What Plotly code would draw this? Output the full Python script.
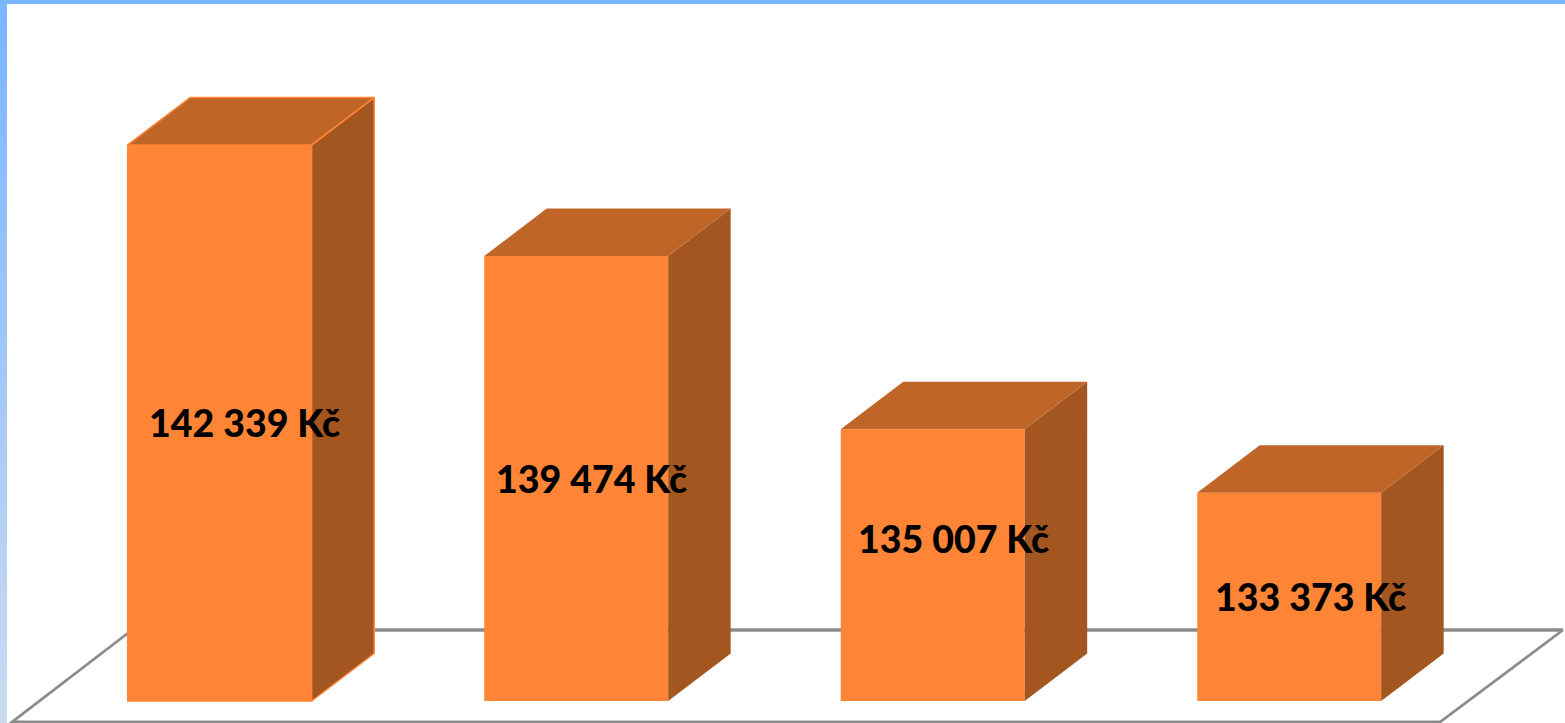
import plotly.graph_objects as go

# Annual amounts in CZK, one box per position on the axis
positions = [0, 1, 2, 3]
amounts = [142339, 139474, 135007, 133373]

# Value axis starts well above zero, as the chart truncates it
BASE = 128000
PX_PER_UNIT_Y = 0.03878
PX_PER_UNIT_X = 356.5
WIDTH, HEIGHT = 1565, 723
BASE_ROW = 701
CENTER_COL = 219.7
BAR_WIDTH = 0.516

FRONT = "#FF8536"
TOP = "#C06528"
SIDE = "#A35620"
GRID = "#8C8C8C"

# Pseudo-3D depth of each box, in pixels
DEPTH_X, DEPTH_Y = 62.5, 47.5
# Nudges of the value labels from the centre of the front face, in pixels
label_dx = [25, 15, 21, 21.5]
label_dy = [0, -0.5, -27, 0]


def col(px):
    return (px - CENTER_COL) / PX_PER_UNIT_X


def row(px):
    return BASE + (BASE_ROW - px) / PX_PER_UNIT_Y


dx = DEPTH_X / PX_PER_UNIT_X
dy = DEPTH_Y / PX_PER_UNIT_Y
half = BAR_WIDTH / 2


def label(v):
    return f"{v:,}".replace(",", " ") + " Kč"


def path_through(cols, rows):
    pts = [f"{col(c)},{row(r)}" for c, r in zip(cols, rows)]
    return "M " + " L ".join(pts)


fig = go.Figure()

# Floor outline sits behind the boxes; its back edge is the heavier one
fig.add_shape(type="path", xref="x", yref="y", layer="below",
              path=path_through((132, 12, 1440, 1563), (630, 722, 722, 630)),
              line=dict(color=GRID, width=2.8))
fig.add_shape(type="path", xref="x", yref="y", layer="below",
              path=path_through((132, 1563), (630, 630)),
              line=dict(color=GRID, width=3.3))

# Front faces
fig.add_trace(go.Bar(
    x=positions,
    y=[a - BASE for a in amounts],
    base=BASE,
    width=BAR_WIDTH,
    marker=dict(color=FRONT, line=dict(color=FRONT, width=[1.5, 0, 0, 0])),
    hoverinfo="skip",
))

# Side and top faces, derived from each box's value
for i, (p, a) in enumerate(zip(positions, amounts)):
    edge = dict(color=FRONT, width=1.5) if i == 0 else dict(width=0)
    left, right = p - half, p + half
    fig.add_trace(go.Scatter(
        x=[right, right + dx, right + dx, right, right],
        y=[BASE, BASE + dy, a + dy, a, BASE],
        mode="lines", fill="toself", fillcolor=SIDE, line=edge, hoverinfo="skip",
    ))
    fig.add_trace(go.Scatter(
        x=[left, left + dx, right + dx, right, left],
        y=[a, a + dy, a + dy, a, a],
        mode="lines", fill="toself", fillcolor=TOP, line=edge, hoverinfo="skip",
    ))

# Blue frame along the top and left page edges
fig.add_trace(go.Scatter(
    x=[col(0), col(7), col(7), col(0), col(0)],
    y=[row(0), row(0), row(HEIGHT), row(HEIGHT), row(0)],
    mode="lines", fill="toself", line=dict(width=0), hoverinfo="skip",
    fillgradient=dict(type="vertical",
                      colorscale=[[0, "#CCDBF1"], [0.5, "#A2C7F8"], [1, "#7AB5FF"]]),
))
fig.add_trace(go.Scatter(
    x=[col(0), col(WIDTH), col(WIDTH), col(0), col(0)],
    y=[row(0), row(0), row(4), row(4), row(0)],
    mode="lines", fill="toself", fillcolor="#7AB5FF", line=dict(width=0), hoverinfo="skip",
))

for p, a, sx, sy in zip(positions, amounts, label_dx, label_dy):
    fig.add_annotation(
        x=p, y=(a + BASE) / 2, xref="x", yref="y", text=label(a),
        showarrow=False, xshift=sx, yshift=-sy,
        font=dict(family="Lato", size=37.5, weight=900, color="#000000"),
    )

fig.update_layout(
    width=WIDTH, height=HEIGHT,
    margin=dict(l=0, r=0, t=0, b=0),
    paper_bgcolor="white", plot_bgcolor="white",
    showlegend=False,
    xaxis=dict(range=[col(0), col(WIDTH)], visible=False, fixedrange=True),
    yaxis=dict(range=[row(HEIGHT), row(0)], visible=False, fixedrange=True),
)

fig.write_html("out.html")
